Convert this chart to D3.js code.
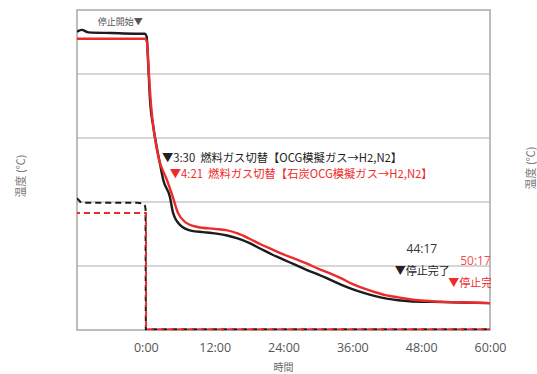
<!DOCTYPE html>
<html>
<head>
<meta charset="utf-8">
<script src="https://cdn.jsdelivr.net/npm/d3@7"></script>
<style>
  html, body { margin: 0; padding: 0; background: #fff; }
  svg { display: block; font-family: "Noto Sans CJK JP", "Noto Sans", sans-serif; }
  text { white-space: pre; }
</style>
</head>
<body>
<svg id="chart" width="537" height="374"></svg>
<script>
// Elapsed time (h) relative to the shutdown start, temperatures in chart units
const solidBlackTime = [-12, -11.2, -10, -6, -2, -0.2, 0.15, 0.38, 0.73, 1.31, 1.9, 2.5, 3.05, 4.2, 4.75, 6.0, 8, 10, 12, 14, 16, 18, 20, 22, 24, 26, 28, 30, 32, 34, 36, 38, 40, 42, 44, 46, 50, 55, 60];
const solidBlackTemp = [466, 469, 465, 464, 463, 463, 458, 422, 359, 317, 286, 258, 234, 208, 183, 164, 155, 153, 151, 148, 143, 136, 127, 118, 110, 102, 94, 87, 79, 71, 64, 58, 53, 49, 46.5, 45, 44, 43, 42];

const solidRedTime = [-12, -6, -0.2, 0.2, 0.5, 0.9, 1.5, 2.2, 3.7, 4.7, 5.6, 6.8, 9.0, 12, 14, 16, 18, 20, 22, 24, 26, 28, 30, 32, 34, 36, 38, 40, 42, 44, 46, 48, 52, 56, 60];
const solidRedTemp = [455, 455, 455, 450, 406, 352, 305, 270, 234, 208, 183, 169, 161, 158, 156, 151, 143, 134, 126, 118, 111, 104, 96, 89, 81, 72, 65, 59, 54, 51, 48, 46, 44, 43, 42];

const dashBlackTime = [-12, -11.4, -10.5, -1.5, -0.6, -0.15, -0.05, 0, 60];
const dashBlackTemp = [206, 200, 199, 199, 198, 194, 189, 1, 1];

const dashRedTime = [-12, -0.1, 0.02, 0.05, 60];
const dashRedTemp = [183, 183, 183, 1, 1];

// Axis ticks
const xTicks = [0, 12, 24, 36, 48, 60];
const xTickLabels = ["0:00", "12:00", "24:00", "36:00", "48:00", "60:00"];
const yGrid = [100, 200, 300, 400];

// Event labels
const startLabel = "停止開始▼";
const switchBlackLabel = "▼3:30  燃料ガス切替【OCG模擬ガス→H2,N2】";
const switchRedLabel = "▼4:21  燃料ガス切替【石炭OCG模擬ガス→H2,N2】";
const endBlackTime = "44:17";
const endRedTime = "50:17";
const endLabel = "▼停止完了";
const xTitle = "時間";
const yTitle = "温度 (℃)";

const svg = d3.select("#chart");
const plotL = 77, plotR = 490, plotT = 10, plotB = 330;

const x = d3.scaleLinear().domain([-12, 60]).range([plotL, plotR]);
const y = d3.scaleLinear().domain([0, 500]).range([plotB, plotT]);

const BLACK = "#1c1c1c", RED = "#ee2b2b";

svg.append("defs").append("clipPath").attr("id", "plot-clip")
  .append("rect").attr("x", plotL).attr("y", plotT - 2)
  .attr("width", plotR - plotL + 1).attr("height", plotB - plotT + 4);

// Horizontal grid lines
svg.append("g")
  .selectAll("line").data(yGrid).join("line")
  .attr("x1", plotL).attr("x2", plotR)
  .attr("y1", d => y(d)).attr("y2", d => y(d))
  .attr("stroke", "#c8c8c8").attr("stroke-width", 1.3);

// Plot frame
svg.append("rect")
  .attr("x", plotL).attr("y", plotT)
  .attr("width", plotR - plotL).attr("height", plotB - plotT)
  .attr("fill", "none").attr("stroke", "#a8a8a8").attr("stroke-width", 1.5);

// X axis labels
const xAxis = d3.axisBottom(x).tickValues(xTicks)
  .tickFormat((d, i) => xTickLabels[i]).tickSize(0).tickPadding(13);
const gx = svg.append("g").attr("transform", `translate(0,${plotB})`).call(xAxis);
gx.select(".domain").remove();
gx.selectAll("text").attr("font-size", 12.5).attr("fill", "#555")
  .attr("font-family", "\"Open Sans\", \"Noto Sans\", sans-serif");

// Axis titles
svg.append("text").attr("x", (plotL + plotR) / 2).attr("y", 366)
  .attr("text-anchor", "middle").attr("dominant-baseline", "central")
  .attr("font-size", 10).attr("fill", "#666").text(xTitle);

svg.append("text")
  .attr("transform", "translate(20,176) rotate(-90)")
  .attr("text-anchor", "middle").attr("dominant-baseline", "central")
  .attr("font-size", 11).attr("fill", "#777").text(yTitle);

// Title of the neighbouring panel's axis at the page edge
svg.append("text")
  .attr("transform", "translate(530,168) rotate(-90)")
  .attr("text-anchor", "middle").attr("dominant-baseline", "central")
  .attr("font-size", 11).attr("fill", "#777").text(yTitle);

const plot = svg.append("g").attr("clip-path", "url(#plot-clip)");

const zip = (ts, vs) => ts.map((t, i) => [t, vs[i]]);
const smooth = d3.line().x(d => x(d[0])).y(d => y(d[1])).curve(d3.curveMonotoneX);
const straight = d3.line().x(d => x(d[0])).y(d => y(d[1]));

plot.append("path").attr("d", straight(zip(dashBlackTime, dashBlackTemp)))
  .attr("fill", "none").attr("stroke", BLACK).attr("stroke-width", 2)
  .attr("stroke-dasharray", "6,4");
plot.append("path").attr("d", straight(zip(dashRedTime, dashRedTemp)))
  .attr("fill", "none").attr("stroke", RED).attr("stroke-width", 2)
  .attr("stroke-dasharray", "6,4").attr("stroke-dashoffset", 3);

plot.append("path").attr("d", smooth(zip(solidBlackTime, solidBlackTemp)))
  .attr("fill", "none").attr("stroke", BLACK).attr("stroke-width", 2.4);
plot.append("path").attr("d", smooth(zip(solidRedTime, solidRedTemp)))
  .attr("fill", "none").attr("stroke", RED).attr("stroke-width", 2.4);

// Event annotations
const ann = plot.append("g").attr("dominant-baseline", "central");

ann.append("text").attr("x", x(0) - 3).attr("y", 21)
  .attr("text-anchor", "end").attr("font-size", 9).attr("fill", "#555").text(startLabel);

ann.append("text").attr("x", x(3.5) - 4).attr("y", 157)
  .attr("font-size", 11.3).attr("fill", "#222").text(switchBlackLabel);
ann.append("text").attr("x", x(4.35) - 1).attr("y", 173)
  .attr("font-size", 11.3).attr("fill", RED).text(switchRedLabel);

ann.append("text").attr("x", x(44.28) + 22).attr("y", 248)
  .attr("text-anchor", "middle").attr("font-size", 12).attr("fill", "#333")
  .attr("font-family", "\"Open Sans\", \"Noto Sans\", sans-serif").text(endBlackTime);
ann.append("text").attr("x", x(44.28) - 5).attr("y", 270)
  .attr("font-size", 11).attr("fill", "#222").text(endLabel);

ann.append("text").attr("x", x(50.28) + 26).attr("y", 260)
  .attr("font-size", 12).attr("fill", "#f05050")
  .attr("font-family", "\"Open Sans\", \"Noto Sans\", sans-serif").text(endRedTime);
ann.append("text").attr("x", x(50.28) + 14).attr("y", 282)
  .attr("font-size", 11).attr("fill", RED).text(endLabel);
</script>
</body>
</html>
